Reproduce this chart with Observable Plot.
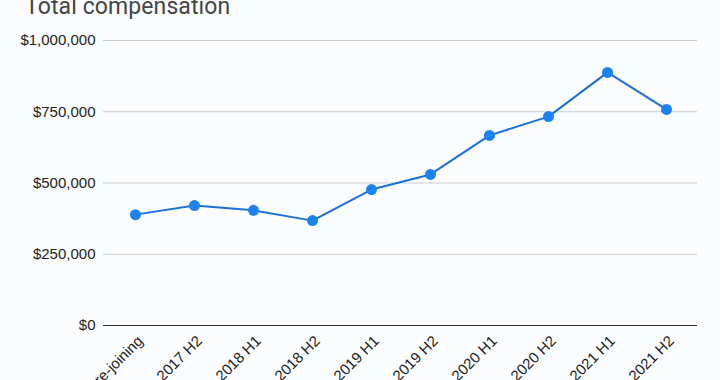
<!DOCTYPE html>
<html>
<head>
<meta charset="utf-8">
<script src="https://cdn.jsdelivr.net/npm/d3@7"></script>
<script src="https://cdn.jsdelivr.net/npm/@observablehq/plot@0.6"></script>
<style>
  html, body { margin: 0; padding: 0; background: #fbfcfe; }
  #wrap { position: relative; width: 720px; height: 380px; overflow: hidden; }
  #title { position: absolute; left: 25px; top: -7px; font-family: Roboto, Arial, sans-serif; font-size: 23px; color: #444; white-space: nowrap; letter-spacing: 0.1px; }
  svg { display: block; }
</style>
</head>
<body>
<div id="wrap">
  <div id="title">Total compensation</div>
  <div id="chart"></div>
</div>
<script>
const categories = ["Pre-joining", "2017 H2", "2018 H1", "2018 H2", "2019 H1", "2019 H2", "2020 H1", "2020 H2", "2021 H1", "2021 H2"];
const compensation = [389000, 421000, 404000, 368000, 477000, 530000, 667000, 733000, 888000, 758000];
const yTicks = [0, 250000, 500000, 750000, 1000000];

const data = categories.map((c, i) => ({category: c, value: compensation[i]}));

const chart = Plot.plot({
  width: 720,
  height: 380,
  marginLeft: 103,
  marginRight: 23,
  marginTop: 40,
  marginBottom: 55,
  style: {background: "transparent", fontFamily: "Arial, 'Liberation Sans', sans-serif", fontSize: "15px", color: "#222"},
  x: {type: "point", domain: categories, padding: 0.5, label: null},
  y: {domain: [0, 1000000], ticks: yTicks, tickFormat: d3.format("$,"), label: null, tickSize: 0, tickPadding: 8},
  marks: [
    Plot.ruleY(yTicks.filter(d => d > 0), {stroke: "#cccccc", strokeWidth: 1}),
    Plot.ruleY([0], {stroke: "#333333", strokeWidth: 1}),
    Plot.axisX({tickRotate: -45, tickSize: 0, tickPadding: 13, dx: 5, label: null, fontSize: 15}),
    Plot.line(data, {x: "category", y: "value", stroke: "#1a6fd9", strokeWidth: 2}),
    Plot.dot(data, {x: "category", y: "value", r: 5.5, fill: "#1c82f0", stroke: "none"})
  ]
});
document.getElementById("chart").appendChild(chart);
</script>
</body>
</html>
